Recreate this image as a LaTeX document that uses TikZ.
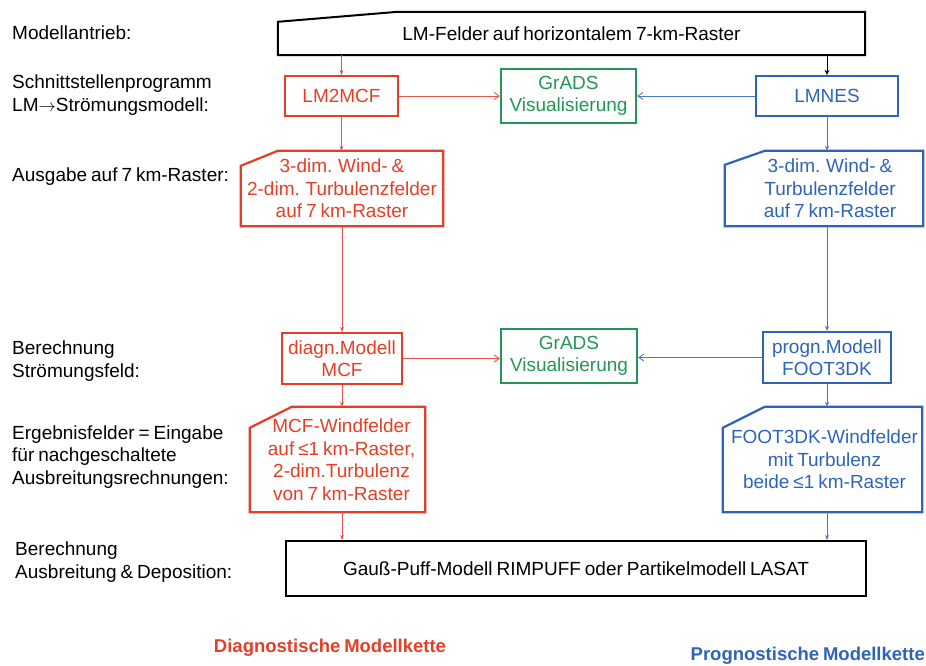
\documentclass[tikz,border=0pt]{standalone}
\usepackage{fontspec}
\setmainfont[WordSpace=0.75]{Liberation Sans}
\usetikzlibrary{arrows.meta}
\definecolor{cred}{RGB}{230,62,36}
\definecolor{credl}{RGB}{228,85,75}
\definecolor{cblue}{RGB}{45,100,185}
\definecolor{cbluel}{RGB}{70,120,200}
\definecolor{cgreen}{RGB}{35,150,85}
\begin{document}
\begin{tikzpicture}[x=1pt,y=-1pt,
  every node/.style={font=\fontsize{19}{22.5}\selectfont, inner sep=0pt, align=center},
  box/.style={draw, line width=2pt, minimum width=#1},
  lab/.style={anchor=west, align=left, text=black},
  redbox/.style={draw=cred, text=cred, line width=2.2pt},
  bluebox/.style={draw=cblue, text=cblue, line width=2.2pt},
  greenbox/.style={draw=cgreen, text=cgreen, line width=2.2pt},
  redtxt/.style={text=cred},
  bluetxt/.style={text=cblue},
  redarr/.style={draw=credl, line width=0.9pt, -{Straight Barb[length=5pt,width=7pt]}},
  bluearr/.style={draw=cbluel, line width=0.9pt, -{Straight Barb[length=5pt,width=7pt]}},
  blackarr/.style={draw=black, line width=0.9pt, -{Stealth[length=5pt,width=5pt]}},
  vred/.style={draw=credl, line width=1pt, -{Stealth[length=5pt,width=4pt]}},
  vblue/.style={draw=cbluel, line width=1pt, -{Stealth[length=5pt,width=4pt]}},
  outline/.style={line width=2.2pt, line join=miter}
]
\useasboundingbox (0,0) rectangle (926,666);

% left labels
\node[lab] (l1) at (12,33) {Modellantrieb:};
\node[lab] (l2) at (12,95) {Schnittstellenprogramm\\LM$\rightarrow$Strömungsmodell:};
\node[lab] (l3) at (12,177) {Ausgabe auf 7 km-Raster:};
\node[lab] (l4) at (12,361) {Berechnung\\Strömungsfeld:};
\node[lab] (l5) at (12,457) {Ergebnisfelder = Eingabe\\für nachgeschaltete\\Ausbreitungsrechnungen:};
\node[lab] (l6) at (15,562) {Berechnung\\Ausbreitung \& Deposition:};

% top box (manual input shape)
\node[minimum width=587pt, minimum height=43pt] (top) at (571.5,33.5) {LM-Felder auf horizontalem 7-km-Raster};
\draw[line width=2pt] (top.south west) -- ([yshift=-10pt]top.north west) -- ([xshift=120pt]top.north west) -- (top.north east) -- (top.south east) -- cycle;

% row 2
\node[redbox, minimum width=113pt, minimum height=40pt] (lm2mcf) at (341.5,96) {LM2MCF};
\node[greenbox, minimum width=135pt, minimum height=54pt] (grads1) at (568.5,96) {GrADS\\Visualisierung};
\node[bluebox, minimum width=142pt, minimum height=40pt] (lmnes) at (827,96) {LMNES};

% row 3 (chamfered output boxes)
\node[redtxt, minimum width=202pt, minimum height=75pt] (red1) at (342,188.5) {3-dim. Wind- \&\\2-dim. Turbulenzfelder\\auf 7 km-Raster};
\draw[cred, outline] ([yshift=-15pt]red1.north west) -- ([xshift=37pt]red1.north west) -- (red1.north east) -- (red1.south east) -- (red1.south west) -- cycle;
\node[bluetxt, minimum width=198pt, minimum height=75pt] (blue1) at (824,188.5) {\hspace*{12pt}3-dim. Wind- \&\\\hspace*{12pt}Turbulenzfelder\\\hspace*{12pt}auf 7 km-Raster};
\draw[cblue, outline] ([yshift=-14pt]blue1.north west) -- ([xshift=40pt]blue1.north west) -- (blue1.north east) -- (blue1.south east) -- (blue1.south west) -- cycle;

% row 4
\node[redbox, minimum width=120pt, minimum height=51pt] (diagn) at (342,358.5) {diagn.Modell\\MCF};
\node[greenbox, minimum width=136pt, minimum height=54pt] (grads2) at (569,356) {GrADS\\Visualisierung};
\node[bluebox, minimum width=128pt, minimum height=51pt] (progn) at (827,357.5) {progn.Modell\\FOOT3DK};

% row 5
\node[redtxt, minimum width=175pt, minimum height=105pt] (red2) at (337.5,459.5) {\hspace*{8pt}MCF-Windfelder\\\hspace*{8pt}auf ≤1 km-Raster,\\\hspace*{8pt}2-dim.Turbulenz\\\hspace*{8pt}von 7 km-Raster};
\draw[cred, outline] ([yshift=-21pt]red2.north west) -- ([xshift=42pt]red2.north west) -- (red2.north east) -- (red2.south east) -- (red2.south west) -- cycle;
\node[bluetxt, minimum width=199pt, minimum height=105pt] (blue2) at (822.5,459.5) {\hspace*{4pt}FOOT3DK-Windfelder\\\hspace*{4pt}mit Turbulenz\\\hspace*{4pt}beide ≤1 km-Raster};
\draw[cblue, outline] ([yshift=-21pt]blue2.north west) -- ([xshift=42pt]blue2.north west) -- (blue2.north east) -- (blue2.south east) -- (blue2.south west) -- cycle;

% bottom box
\node[box=580pt, minimum height=55pt] (bottom) at (576,568.5) {Gauß-Puff-Modell RIMPUFF oder Partikelmodell LASAT};

% legends
\node[font=\fontsize{18.5}{22}\selectfont\bfseries, text=cred] (leg1) at (330,648) {Diagnostische Modellkette};
\node[font=\fontsize{18.5}{22}\selectfont\bfseries, text=cblue, anchor=east] (leg2) at (925,656) {Prognostische Modellkette};

% connectors
\draw[vred] (lm2mcf.north |- top.south) -- (lm2mcf.north);
\draw[blackarr] (lmnes.north |- top.south) -- (lmnes.north);
\draw[redarr] (lm2mcf.east) -- (grads1.west |- lm2mcf.east);
\draw[bluearr] (lmnes.west) -- (grads1.east |- lmnes.west);
\draw[vred] (lm2mcf.south) -- (lm2mcf.south |- red1.north);
\draw[vblue] (lmnes.south) -- (lmnes.south |- blue1.north);
\draw[vred] (diagn.north |- red1.south) -- (diagn.north);
\draw[vblue] (progn.north |- blue1.south) -- (progn.north);
\draw[redarr] (diagn.east) -- (grads2.west |- diagn.east);
\draw[bluearr] (progn.west) -- (grads2.east |- progn.west);
\draw[vred] (diagn.south) -- (diagn.south |- red2.north);
\draw[vblue] (progn.south) -- (progn.south |- blue2.north);
\draw[vred] (diagn.south |- red2.south) -- (diagn.south |- bottom.north);
\draw[vblue] (progn.south |- blue2.south) -- (progn.south |- bottom.north);
\end{tikzpicture}
\end{document}
